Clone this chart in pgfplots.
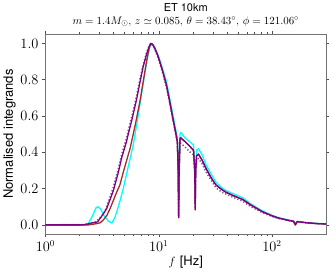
\documentclass[border=0pt]{standalone}
\usepackage{pgfplots}
\pgfplotsset{compat=1.18}
\usepackage{fontspec}
\newfontfamily\heros{TeX Gyre Heros}
\definecolor{mplpurple}{HTML}{800080}
\definecolor{mplcyan}{HTML}{00FFFF}
\definecolor{mplbrown}{HTML}{A52A2A}
\definecolor{dotpurple}{HTML}{8A5A96}
\begin{document}
\begin{tikzpicture}
\begin{axis}[
  scale only axis, width=281pt, height=200pt,
  xmode=log, xmin=1, xmax=300, ymin=-0.05, ymax=1.05,
  ytick={0,0.2,0.4,0.6,0.8,1.0},
  yticklabel style={/pgf/number format/fixed,/pgf/number format/precision=1,/pgf/number format/fixed zerofill},
  tick label style={font=\fontsize{13.5}{15}\selectfont},
  tick align=outside, major tick length=3.5pt, minor tick length=2pt,
  axis line style={black!55}, every tick/.style={black!70},
  xtick={1,10,100},
  title style={align=center, font=\fontsize{11}{13}\selectfont, yshift=-2pt},
  title={{\heros ET 10km}\\$m = 1.4M_{\odot}$, $z \simeq 0.085$, $\theta = 38.43^{\circ}$, $\phi = 121.06^{\circ}$},
  xlabel={$f$ {\heros [Hz]}}, xlabel style={font=\fontsize{13}{15}\selectfont, yshift=3pt},
  ylabel={\heros Normalised integrands}, ylabel style={font=\fontsize{13}{15}\selectfont, yshift=-2pt},
  every axis plot/.append style={line width=1.3pt, line join=round},
]
\addplot[mplcyan] table {
1.0 0
2.2 0
2.4 0.01
2.6 0.05
2.8 0.095
2.9 0.10
3.05 0.09
3.3 0.05
3.6 0.02
3.85 0.01
4.1 0.04
4.3 0.08
4.54 0.13
4.86 0.20
5.38 0.32
5.95 0.44
6.5 0.58
7.05 0.72
7.6 0.85
8.06 0.94
8.4 0.985
8.7 1.0
9.0 0.99
9.5 0.96
10.2 0.91
11.7 0.79
13.3 0.61
14.6 0.48
14.85 0.30
15.0 0.10
15.15 0.30
15.4 0.50
15.7 0.51
17 0.48
19 0.455
20.3 0.44
20.8 0.30
21.0 0.15
21.2 0.30
21.6 0.41
22.4 0.42
24 0.39
26.2 0.33
29 0.28
32 0.235
36 0.205
39 0.19
46 0.17
55 0.15
65 0.115
82 0.078
100 0.053
115 0.04
140 0.027
155 0.022
161 0.005
167 0.02
200 0.013
250 0.008
300 0.005
};
\addplot[mplbrown] table {
1.0 0
2.4 0
2.6 0.003
2.9 0.008
3.05 0.012
3.25 0.028
3.47 0.05
3.72 0.09
4.25 0.18
4.54 0.22
4.86 0.29
5.58 0.42
6.2 0.55
6.82 0.68
7.3 0.79
7.8 0.90
8.2 0.97
8.5 1.0
8.8 0.995
9.2 0.975
9.86 0.93
10.8 0.85
11.7 0.77
12.5 0.68
13.3 0.59
14.0 0.52
14.6 0.46
14.85 0.30
15.0 0.04
15.15 0.30
15.4 0.47
15.6 0.48
17 0.46
19 0.43
20.3 0.41
20.8 0.30
21.0 0.083
21.2 0.30
21.6 0.38
22.4 0.39
24 0.36
26.2 0.31
29 0.26
32 0.22
36 0.195
39.2 0.18
46 0.16
55 0.14
65 0.11
82 0.073
100 0.05
115 0.037
140 0.025
155 0.02
161 0.0
167 0.018
200 0.012
250 0.007
300 0.005
};
\addplot[dotpurple, dotted, line width=1.5pt] table {
1.0 0
2.2 0.002
2.5 0.008
2.8 0.02
3.03 0.04
3.25 0.06
3.47 0.10
3.72 0.155
3.98 0.21
4.4 0.31
4.71 0.39
5.2 0.48
5.38 0.52
5.8 0.60
6.37 0.71
6.8 0.80
7.28 0.88
7.8 0.95
8.2 0.985
8.5 1.0
8.8 0.99
9.2 0.97
9.86 0.92
10.8 0.84
11.7 0.755
12.5 0.67
13.3 0.58
14.0 0.51
14.6 0.45
14.85 0.30
15.0 0.05
15.15 0.30
15.4 0.44
15.6 0.45
17 0.43
19 0.40
20.3 0.385
20.8 0.28
21.0 0.09
21.2 0.28
21.6 0.36
22.4 0.365
24 0.34
26.2 0.29
29 0.245
32 0.205
36 0.18
39.2 0.17
46 0.15
55 0.13
65 0.10
82 0.068
100 0.046
115 0.035
140 0.023
155 0.019
161 0.002
167 0.017
200 0.011
250 0.007
300 0.005
};
\addplot[mplpurple] table {
1.0 0
2.0 0
2.2 0.001
2.4 0.006
2.6 0.012
2.75 0.012
2.9 0.018
3.03 0.035
3.2 0.055
3.47 0.09
3.72 0.14
3.98 0.19
4.4 0.29
4.71 0.37
5.2 0.46
5.38 0.50
5.8 0.58
6.37 0.69
6.8 0.78
7.28 0.87
7.8 0.94
8.2 0.98
8.5 1.0
8.8 0.995
9.2 0.975
9.86 0.93
10.8 0.85
11.7 0.77
12.5 0.68
13.3 0.59
14.0 0.52
14.6 0.46
14.85 0.30
15.0 0.04
15.15 0.30
15.4 0.47
15.6 0.48
17 0.46
19 0.43
20.3 0.41
20.8 0.30
21.0 0.083
21.2 0.30
21.6 0.38
22.4 0.39
24 0.36
26.2 0.31
29 0.26
32 0.22
36 0.195
39.2 0.18
46 0.16
55 0.14
65 0.11
82 0.073
100 0.05
115 0.037
140 0.025
155 0.02
161 0.0
167 0.018
200 0.012
250 0.007
300 0.005
};
\end{axis}
\path (current axis.south west) ++(-45pt,-44pt) (current axis.north east) ++(6pt,29pt);
\end{tikzpicture}
\end{document}
